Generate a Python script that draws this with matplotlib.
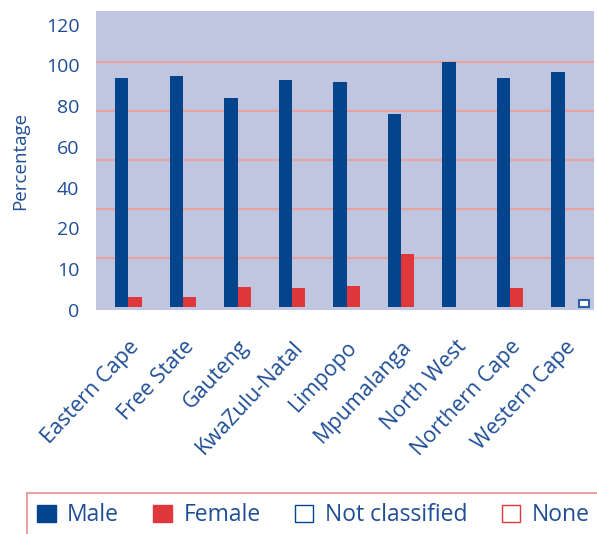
import matplotlib
matplotlib.use("Agg")
from matplotlib import pyplot as plt
from matplotlib.patches import Patch
import numpy as np

provinces = ["Eastern Cape", "Free State", "Gauteng", "KwaZulu-Natal", "Limpopo",
             "Mpumalanga", "North West", "Northern Cape", "Western Cape"]
male = [93.5, 94.3, 85.5, 92.7, 91.9, 78.7, 100.3, 93.5, 95.9]
female = [4.0, 4.0, 8.4, 7.6, 8.8, 21.7, 0.0, 7.6, 0.0]
not_classified = [0, 0, 0, 0, 0, 0, 0, 0, 3.0]
none = [0, 0, 0, 0, 0, 0, 0, 0, 0]
ytick_labels = ["0", "10", "20", "40", "60", "80", "100", "120"]

blue = "#04448C"
red = "#E0373D"
text_blue = "#1F4E96"
bg = "#C0C5E0"
grid_c = "#E9A39C"

plt.rcParams["font.family"] = ["Open Sans", "DejaVu Sans"]

fig = plt.figure(figsize=(5.97, 5.34), dpi=100)
ax = fig.add_axes([96 / 597, 224 / 534, 498 / 597, 299 / 534])
ax.set_facecolor(bg)

x = np.arange(len(provinces))
w = 0.24
ax.bar(x - w / 2, male, w, color=blue, zorder=3)
ax.bar(x + w / 2, female, w, color=red, zorder=3)

# hollow series: only draw the non-zero ones, so no empty outlines show up
nc_idx = [i for i, v in enumerate(not_classified) if v > 0]
ax.bar(x[nc_idx] + 1.5 * w, [not_classified[i] for i in nc_idx], w * 0.8,
       color="white", edgecolor="#2F5FA5", linewidth=1.5, zorder=3)
none_idx = [i for i, v in enumerate(none) if v > 0]
if none_idx:
    ax.bar(x[none_idx] + 2.5 * w, [none[i] for i in none_idx], w * 0.8,
           color="white", edgecolor=red, linewidth=1.5, zorder=3)

for g in [20, 40, 60, 80, 100]:
    ax.axhline(g, color=grid_c, linewidth=1.5, zorder=1)

ax.set_ylim(0, 121)
ax.set_xlim(-0.596, 8.54)
ax.set_yticks(np.linspace(-1.2, 115.4, 8))
ax.set_yticklabels(ytick_labels, fontsize=14, color=text_blue)
ax.set_xticks(x)
ax.set_xticklabels(provinces, rotation=47, ha="right", rotation_mode="anchor",
                   fontsize=15.5, color=text_blue)
ax.tick_params(length=0)
ax.tick_params(axis="y", pad=12)
ax.tick_params(axis="x", pad=19)
for s in ax.spines.values():
    s.set_visible(False)
ax.set_ylabel("Percentage", fontsize=13.5, color=text_blue, labelpad=12)

handles = [
    Patch(facecolor=blue, edgecolor=blue),
    Patch(facecolor=red, edgecolor=red),
    Patch(facecolor="white", edgecolor=blue, linewidth=1),
    Patch(facecolor="white", edgecolor=red, linewidth=1),
]
leg = fig.legend(handles, ["Male", "Female", "Not classified", "None"], ncol=4,
                 loc="upper left", bbox_to_anchor=(27 / 597, 1 - 493 / 534),
                 borderaxespad=0, frameon=True, fancybox=False, fontsize=16.5,
                 handlelength=0.8, handleheight=0.8, handletextpad=0.5,
                 columnspacing=1.5, borderpad=0.45, labelcolor=text_blue)
leg.get_frame().set_edgecolor("#E07070")
leg.get_frame().set_linewidth(1.2)

fig.savefig("out.png", dpi=100)
